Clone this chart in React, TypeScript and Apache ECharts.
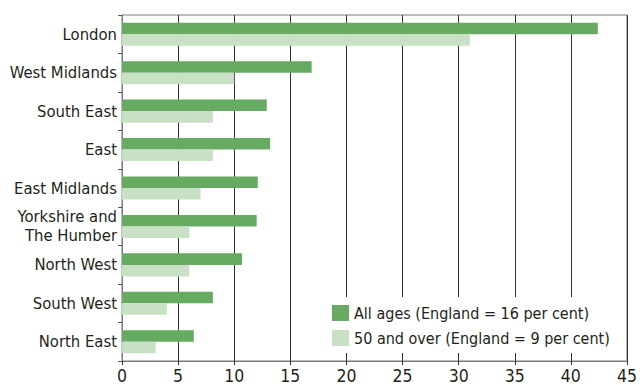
import React, { useEffect, useRef } from "react";
import * as echarts from "echarts";

const regions = [
  "London",
  "West Midlands",
  "South East",
  "East",
  "East Midlands",
  "Yorkshire and\nThe Humber",
  "North West",
  "South West",
  "North East",
];

const allAges = [42.4, 16.9, 12.9, 13.2, 12.1, 12.0, 10.7, 8.1, 6.4];
const fiftyAndOver = [31.0, 10.0, 8.1, 8.1, 7.0, 6.0, 6.0, 4.0, 3.0];

const seriesNames = [
  "All ages (England = 16 per cent)",
  "50 and over (England = 9 per cent)",
];

const FONT = "'DejaVu Sans Condensed', 'Liberation Sans', sans-serif";
const TEXT = "#231f20";
const DARK_GREEN = "#67aa62";
const LIGHT_GREEN = "#c8e1c5";

export default function App() {
  const ref = useRef<HTMLDivElement>(null);

  useEffect(() => {
    if (!ref.current) return;
    const chart = echarts.init(ref.current, undefined, { renderer: "svg" });
    chart.setOption({
      animation: false,
      backgroundColor: "#ffffff",
      textStyle: { fontFamily: FONT },
      grid: {
        left: 122,
        right: 11,
        top: 15,
        bottom: 21,
        show: true,
        borderColor: "#7a7a7a",
        borderWidth: 1,
      },
      legend: {
        orient: "vertical",
        left: 328,
        top: 297,
        padding: [8, 12, 7, 4],
        backgroundColor: "#ffffff",
        itemWidth: 17,
        itemHeight: 16,
        itemGap: 9,
        icon: "rect",
        textStyle: {
          fontFamily: FONT,
          fontSize: 16,
          color: TEXT,
          lineHeight: 16,
        },
        data: seriesNames,
      },
      xAxis: {
        type: "value",
        min: 0,
        max: 45,
        interval: 5,
        axisLine: { show: true, lineStyle: { color: "#7a7a7a", width: 1 } },
        axisTick: { show: true, length: 4, lineStyle: { color: "#333" } },
        splitLine: { show: true, lineStyle: { color: "#333", width: 1 } },
        axisLabel: {
          fontFamily: FONT,
          fontSize: 17.5,
          color: TEXT,
          margin: 6,
        },
      },
      yAxis: {
        type: "category",
        inverse: true,
        data: regions,
        axisLine: { show: true, lineStyle: { color: "#7a7a7a", width: 1 } },
        axisTick: { show: true, length: 4, lineStyle: { color: "#555" } },
        axisLabel: {
          fontFamily: FONT,
          fontSize: 16.5,
          lineHeight: 19,
          color: TEXT,
          margin: 5,
          align: "right",
        },
      },
      series: [
        {
          name: seriesNames[0],
          type: "bar",
          data: allAges,
          itemStyle: { color: DARK_GREEN },
          barGap: "0%",
          barCategoryGap: "40%",
        },
        {
          name: seriesNames[1],
          type: "bar",
          data: fiftyAndOver,
          itemStyle: { color: LIGHT_GREEN },
          barGap: "0%",
          barCategoryGap: "40%",
        },
      ],
    });
    return () => chart.dispose();
  }, []);

  return (
    <div
      ref={ref}
      style={{ position: "absolute", left: 0, top: 0, width: 640, height: 385 }}
    />
  );
}
